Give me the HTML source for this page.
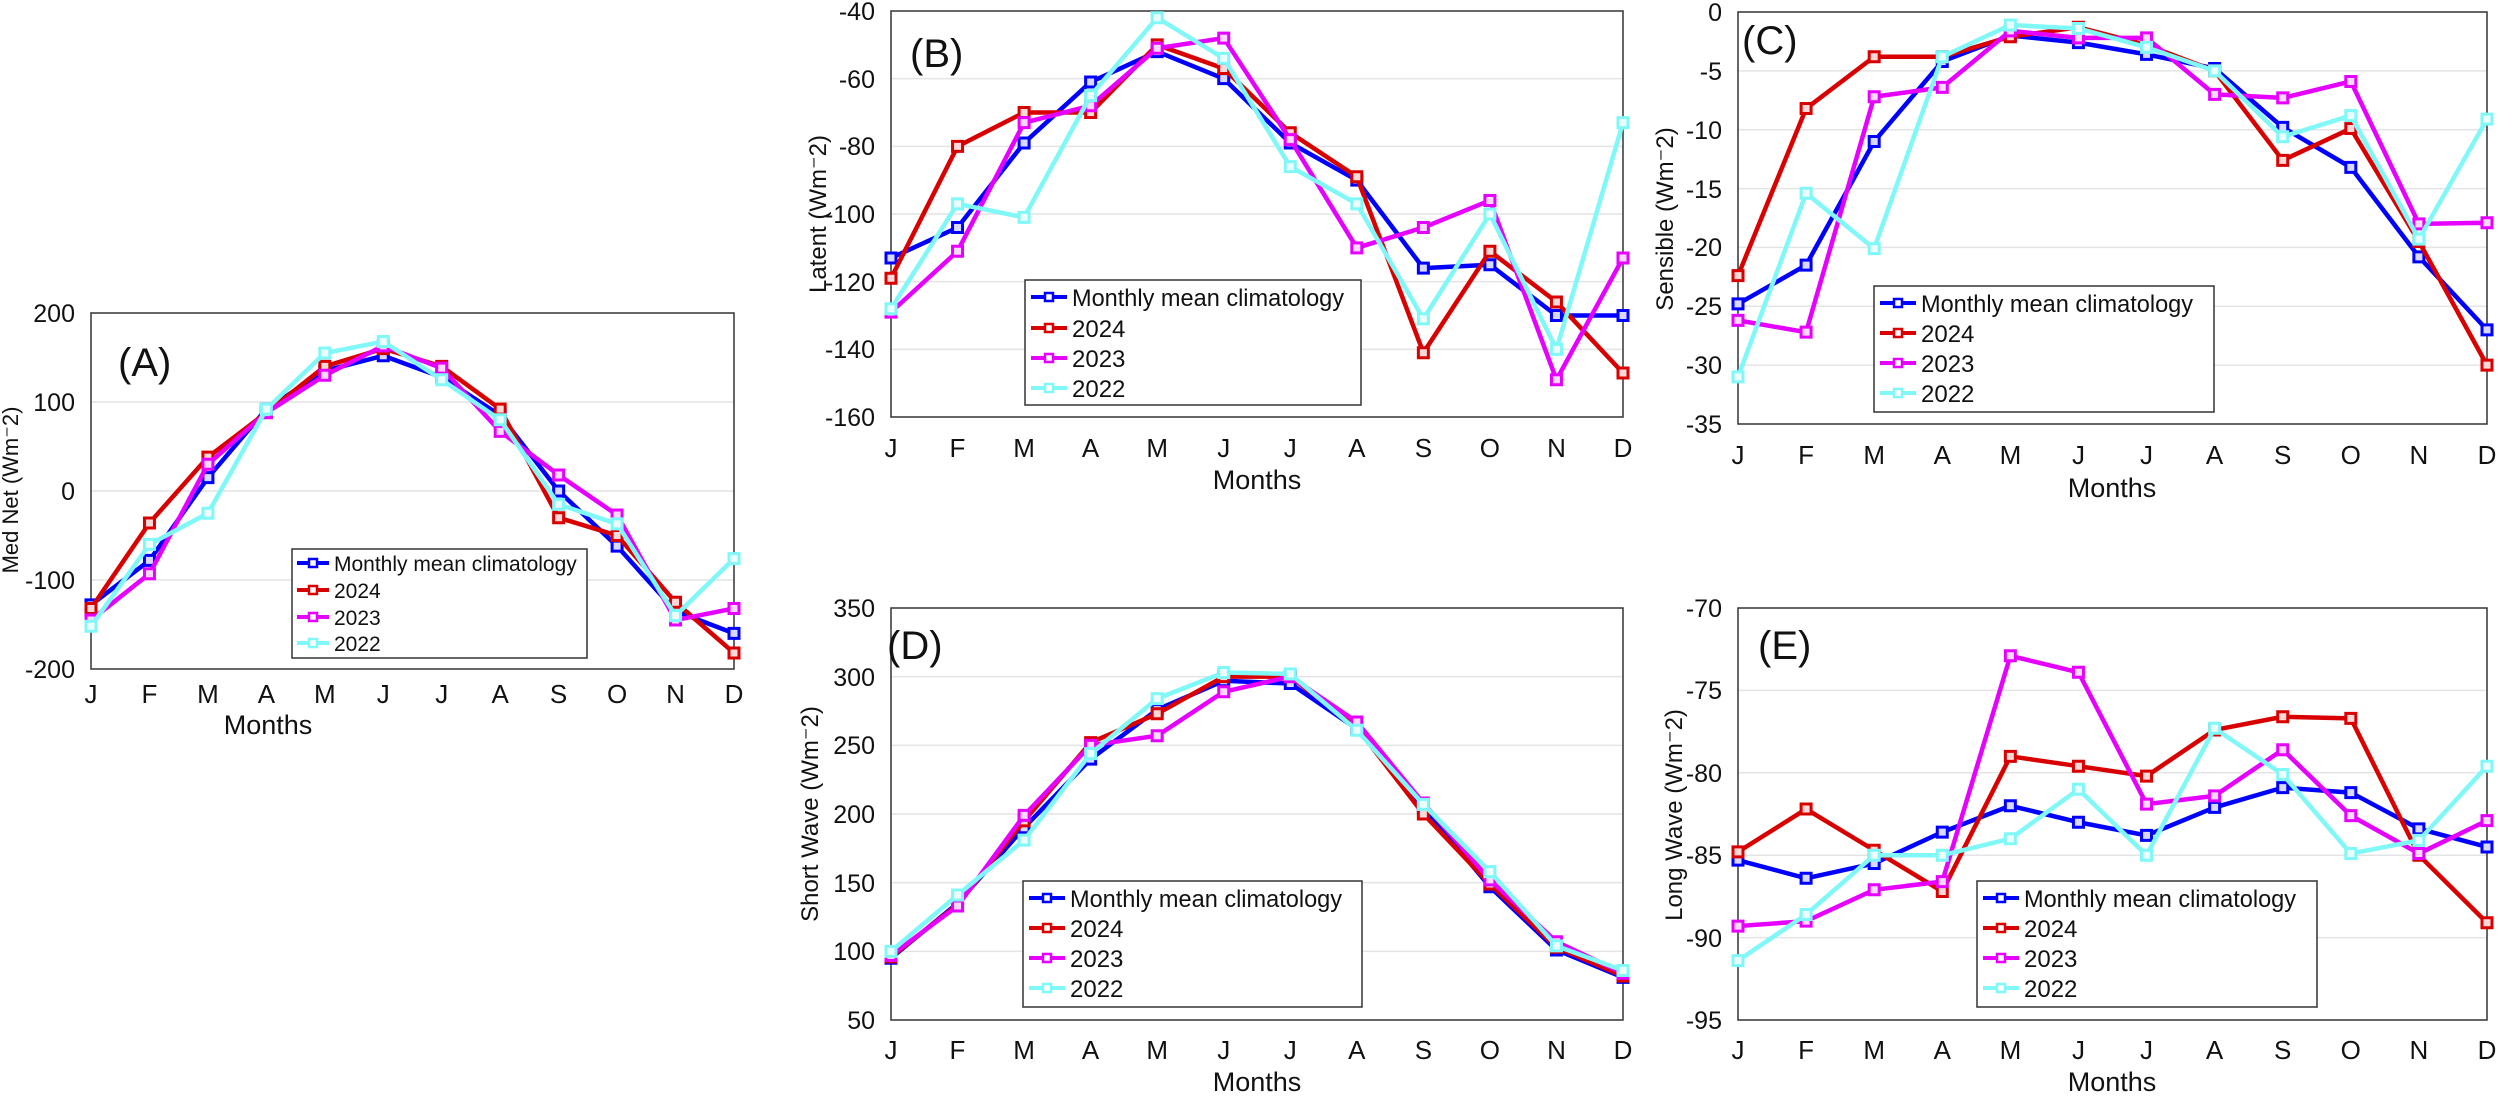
<!DOCTYPE html>
<html><head><meta charset="utf-8"><style>
html,body{margin:0;padding:0;background:#fff;width:2500px;height:1097px;overflow:hidden}
svg{display:block}
text{font-family:"Liberation Sans",sans-serif;fill:#111}
.t{font-size:25px}
.m{font-size:26px}
.lab{font-size:27px}
.yl{font-size:24px}
.ttl{font-size:40px}
.lg{font-size:24px}
.lgA{font-size:21px}
.g line{stroke:#e4e4e4;stroke-width:1.5;vector-effect:non-scaling-stroke}
.s{fill:none;stroke-width:4.5;stroke-linejoin:round;vector-effect:non-scaling-stroke}
.mk{fill:none;stroke-width:13;stroke-linecap:square;vector-effect:non-scaling-stroke}
.mw{fill:none;stroke:#fff;stroke-width:7;stroke-linecap:square;vector-effect:non-scaling-stroke;opacity:.85}
.b{stroke:#0000ff}.r{stroke:#d90000}.p{stroke:#e600ff}.c{stroke:#80f8f8}
.box{fill:none;stroke:#333;stroke-width:1.5}
.lgb{fill:#fff;stroke:#333;stroke-width:1.5}
</style></head><body>
<svg width="2500" height="1097" viewBox="0 0 2500 1097" xmlns="http://www.w3.org/2000/svg">
<defs>
<g id="vg"><line x1="0" x2="0" y1="-1000" y2="1000"/><line x1="1" x2="1" y1="-1000" y2="1000"/><line x1="2" x2="2" y1="-1000" y2="1000"/><line x1="3" x2="3" y1="-1000" y2="1000"/><line x1="4" x2="4" y1="-1000" y2="1000"/><line x1="5" x2="5" y1="-1000" y2="1000"/><line x1="6" x2="6" y1="-1000" y2="1000"/><line x1="7" x2="7" y1="-1000" y2="1000"/><line x1="8" x2="8" y1="-1000" y2="1000"/><line x1="9" x2="9" y1="-1000" y2="1000"/><line x1="10" x2="10" y1="-1000" y2="1000"/><line x1="11" x2="11" y1="-1000" y2="1000"/></g>
<clipPath id="cA"><rect x="91" y="313" width="643" height="356"/></clipPath>
<clipPath id="cB"><rect x="891" y="11" width="732" height="406"/></clipPath>
<clipPath id="cC"><rect x="1738" y="12" width="749" height="412"/></clipPath>
<clipPath id="cD"><rect x="891" y="608" width="732" height="412"/></clipPath>
<clipPath id="cE"><rect x="1738" y="608" width="749" height="412"/></clipPath>
</defs>

<!-- ============ PANEL A ============ -->
<g class="g" clip-path="url(#cA)">
<g transform="translate(91 313) scale(58.4545 -0.89) translate(0 -200)"><use href="#vg"/>
<line x1="-1" x2="12" y1="100" y2="100"/><line x1="-1" x2="12" y1="0" y2="0"/><line x1="-1" x2="12" y1="-100" y2="-100"/></g></g>
<rect class="box" x="91" y="313" width="643" height="356"/>
<g transform="translate(91 313) scale(58.4545 -0.89) translate(0 -200)">
<polyline class="s b" points="0,-128 1,-78 2,15 3,92 4,135 5,152 6,128 7,85 8,0 9,-62 10,-135 11,-160"/>
<path class="mk b" d="M0 -128h0M1 -78h0M2 15h0M3 92h0M4 135h0M5 152h0M6 128h0M7 85h0M8 0h0M9 -62h0M10 -135h0M11 -160h0"/>
<path class="mw" d="M0 -128h0M1 -78h0M2 15h0M3 92h0M4 135h0M5 152h0M6 128h0M7 85h0M8 0h0M9 -62h0M10 -135h0M11 -160h0"/>
<polyline class="s r" points="0,-132 1,-36 2,38 3,88 4,140 5,160 6,140 7,92 8,-30 9,-50 10,-125 11,-182"/>
<path class="mk r" d="M0 -132h0M1 -36h0M2 38h0M3 88h0M4 140h0M5 160h0M6 140h0M7 92h0M8 -30h0M9 -50h0M10 -125h0M11 -182h0"/>
<path class="mw" d="M0 -132h0M1 -36h0M2 38h0M3 88h0M4 140h0M5 160h0M6 140h0M7 92h0M8 -30h0M9 -50h0M10 -125h0M11 -182h0"/>
<polyline class="s p" points="0,-145 1,-93 2,30 3,88 4,130 5,163 6,138 7,67 8,18 9,-27 10,-145 11,-132"/>
<path class="mk p" d="M0 -145h0M1 -93h0M2 30h0M3 88h0M4 130h0M5 163h0M6 138h0M7 67h0M8 18h0M9 -27h0M10 -145h0M11 -132h0"/>
<path class="mw" d="M0 -145h0M1 -93h0M2 30h0M3 88h0M4 130h0M5 163h0M6 138h0M7 67h0M8 18h0M9 -27h0M10 -145h0M11 -132h0"/>
<polyline class="s c" points="0,-152 1,-60 2,-25 3,92 4,155 5,168 6,125 7,80 8,-15 9,-37 10,-140 11,-76"/>
<path class="mk c" d="M0 -152h0M1 -60h0M2 -25h0M3 92h0M4 155h0M5 168h0M6 125h0M7 80h0M8 -15h0M9 -37h0M10 -140h0M11 -76h0"/>
<path class="mw" d="M0 -152h0M1 -60h0M2 -25h0M3 92h0M4 155h0M5 168h0M6 125h0M7 80h0M8 -15h0M9 -37h0M10 -140h0M11 -76h0"/>
</g>
<g class="t" text-anchor="end"><text x="75" y="322">200</text><text x="75" y="411">100</text><text x="75" y="500">0</text><text x="75" y="589">-100</text><text x="75" y="678">-200</text></g>
<g class="m" text-anchor="middle"><text x="91" y="703">J</text><text x="149.5" y="703">F</text><text x="207.9" y="703">M</text><text x="266.4" y="703">A</text><text x="324.8" y="703">M</text><text x="383.3" y="703">J</text><text x="441.7" y="703">J</text><text x="500.2" y="703">A</text><text x="558.6" y="703">S</text><text x="617.1" y="703">O</text><text x="675.5" y="703">N</text><text x="734" y="703">D</text></g>
<text class="lab" x="268" y="734" text-anchor="middle">Months</text>
<text class="yl" transform="translate(18 490) rotate(-90)" text-anchor="middle" style="font-size:22px">Med Net (Wm&#x207B;2)</text>
<text class="ttl" x="118" y="376">(A)</text>
<rect class="lgb" x="292" y="549" width="295" height="109"/>
<g>
<line class="b" x1="297" x2="329" y1="563" y2="563" stroke-width="4"/><rect x="309" y="559" width="8" height="8" fill="#fff" stroke="#0000ff" stroke-width="2.5"/>
<line class="r" x1="297" x2="329" y1="590" y2="590" stroke-width="4"/><rect x="309" y="586" width="8" height="8" fill="#fff" stroke="#d90000" stroke-width="2.5"/>
<line class="p" x1="297" x2="329" y1="617" y2="617" stroke-width="4"/><rect x="309" y="613" width="8" height="8" fill="#fff" stroke="#e600ff" stroke-width="2.5"/>
<line class="c" x1="297" x2="329" y1="643" y2="643" stroke-width="4"/><rect x="309" y="639" width="8" height="8" fill="#fff" stroke="#80f8f8" stroke-width="2.5"/>
</g>
<g class="lgA"><text x="334" y="571">Monthly mean climatology</text><text x="334" y="598">2024</text><text x="334" y="625">2023</text><text x="334" y="651">2022</text></g>

<!-- ============ PANEL B ============ -->
<g class="g" clip-path="url(#cB)">
<g transform="translate(891 11) scale(66.545 -3.3833) translate(0 40)"><use href="#vg"/>
<line x1="-1" x2="12" y1="-60" y2="-60"/><line x1="-1" x2="12" y1="-80" y2="-80"/><line x1="-1" x2="12" y1="-100" y2="-100"/><line x1="-1" x2="12" y1="-120" y2="-120"/><line x1="-1" x2="12" y1="-140" y2="-140"/></g></g>
<rect class="box" x="891" y="11" width="732" height="406"/>
<g transform="translate(891 11) scale(66.545 -3.3833) translate(0 40)">
<polyline class="s b" points="0,-113 1,-104 2,-79 3,-61 4,-52 5,-60 6,-79 7,-90 8,-116 9,-115 10,-130 11,-130"/>
<path class="mk b" d="M0 -113h0M1 -104h0M2 -79h0M3 -61h0M4 -52h0M5 -60h0M6 -79h0M7 -90h0M8 -116h0M9 -115h0M10 -130h0M11 -130h0"/>
<path class="mw" d="M0 -113h0M1 -104h0M2 -79h0M3 -61h0M4 -52h0M5 -60h0M6 -79h0M7 -90h0M8 -116h0M9 -115h0M10 -130h0M11 -130h0"/>
<polyline class="s r" points="0,-119 1,-80 2,-70 3,-70 4,-50 5,-57 6,-76 7,-89 8,-141 9,-111 10,-126 11,-147"/>
<path class="mk r" d="M0 -119h0M1 -80h0M2 -70h0M3 -70h0M4 -50h0M5 -57h0M6 -76h0M7 -89h0M8 -141h0M9 -111h0M10 -126h0M11 -147h0"/>
<path class="mw" d="M0 -119h0M1 -80h0M2 -70h0M3 -70h0M4 -50h0M5 -57h0M6 -76h0M7 -89h0M8 -141h0M9 -111h0M10 -126h0M11 -147h0"/>
<polyline class="s p" points="0,-129 1,-111 2,-73 3,-68 4,-51 5,-48 6,-78 7,-110 8,-104 9,-96 10,-149 11,-113"/>
<path class="mk p" d="M0 -129h0M1 -111h0M2 -73h0M3 -68h0M4 -51h0M5 -48h0M6 -78h0M7 -110h0M8 -104h0M9 -96h0M10 -149h0M11 -113h0"/>
<path class="mw" d="M0 -129h0M1 -111h0M2 -73h0M3 -68h0M4 -51h0M5 -48h0M6 -78h0M7 -110h0M8 -104h0M9 -96h0M10 -149h0M11 -113h0"/>
<polyline class="s c" points="0,-128 1,-97 2,-101 3,-65 4,-42 5,-54 6,-86 7,-97 8,-131 9,-100 10,-140 11,-73"/>
<path class="mk c" d="M0 -128h0M1 -97h0M2 -101h0M3 -65h0M4 -42h0M5 -54h0M6 -86h0M7 -97h0M8 -131h0M9 -100h0M10 -140h0M11 -73h0"/>
<path class="mw" d="M0 -128h0M1 -97h0M2 -101h0M3 -65h0M4 -42h0M5 -54h0M6 -86h0M7 -97h0M8 -131h0M9 -100h0M10 -140h0M11 -73h0"/>
</g>
<g class="t" text-anchor="end"><text x="875" y="20">-40</text><text x="875" y="88">-60</text><text x="875" y="155">-80</text><text x="875" y="223">-100</text><text x="875" y="291">-120</text><text x="875" y="358">-140</text><text x="875" y="426">-160</text></g>
<g class="m" text-anchor="middle"><text x="891" y="457">J</text><text x="957.5" y="457">F</text><text x="1024.1" y="457">M</text><text x="1090.6" y="457">A</text><text x="1157.2" y="457">M</text><text x="1223.7" y="457">J</text><text x="1290.3" y="457">J</text><text x="1356.8" y="457">A</text><text x="1423.4" y="457">S</text><text x="1489.9" y="457">O</text><text x="1556.5" y="457">N</text><text x="1623" y="457">D</text></g>
<text class="lab" x="1257" y="489" text-anchor="middle">Months</text>
<text class="yl" transform="translate(826 214) rotate(-90)" text-anchor="middle">Latent (Wm&#x207B;2)</text>
<text class="ttl" x="910" y="67">(B)</text>
<rect class="lgb" x="1025" y="280" width="336" height="125"/>
<g>
<line class="b" x1="1031" x2="1067" y1="297" y2="297" stroke-width="4"/><rect x="1045" y="293" width="8" height="8" fill="#fff" stroke="#0000ff" stroke-width="2.5"/>
<line class="r" x1="1031" x2="1067" y1="328" y2="328" stroke-width="4"/><rect x="1045" y="324" width="8" height="8" fill="#fff" stroke="#d90000" stroke-width="2.5"/>
<line class="p" x1="1031" x2="1067" y1="358" y2="358" stroke-width="4"/><rect x="1045" y="354" width="8" height="8" fill="#fff" stroke="#e600ff" stroke-width="2.5"/>
<line class="c" x1="1031" x2="1067" y1="388" y2="388" stroke-width="4"/><rect x="1045" y="384" width="8" height="8" fill="#fff" stroke="#80f8f8" stroke-width="2.5"/>
</g>
<g class="lg"><text x="1072" y="306" textLength="272" lengthAdjust="spacingAndGlyphs">Monthly mean climatology</text><text x="1072" y="337">2024</text><text x="1072" y="367">2023</text><text x="1072" y="397">2022</text></g>

<!-- ============ PANEL C ============ -->
<g class="g" clip-path="url(#cC)">
<g transform="translate(1738 12) scale(68.09 -11.771)"><use href="#vg"/>
<line x1="-1" x2="12" y1="-5" y2="-5"/><line x1="-1" x2="12" y1="-10" y2="-10"/><line x1="-1" x2="12" y1="-15" y2="-15"/><line x1="-1" x2="12" y1="-20" y2="-20"/><line x1="-1" x2="12" y1="-25" y2="-25"/><line x1="-1" x2="12" y1="-30" y2="-30"/></g></g>
<rect class="box" x="1738" y="12" width="749" height="412"/>
<g transform="translate(1738 12) scale(68.09 -11.771)">
<polyline class="s b" points="0,-24.8 1,-21.5 2,-11 3,-4.2 4,-2 5,-2.6 6,-3.6 7,-4.8 8,-9.8 9,-13.2 10,-20.8 11,-27"/>
<path class="mk b" d="M0 -24.8h0M1 -21.5h0M2 -11h0M3 -4.2h0M4 -2h0M5 -2.6h0M6 -3.6h0M7 -4.8h0M8 -9.8h0M9 -13.2h0M10 -20.8h0M11 -27h0"/>
<path class="mw" d="M0 -24.8h0M1 -21.5h0M2 -11h0M3 -4.2h0M4 -2h0M5 -2.6h0M6 -3.6h0M7 -4.8h0M8 -9.8h0M9 -13.2h0M10 -20.8h0M11 -27h0"/>
<polyline class="s r" points="0,-22.4 1,-8.2 2,-3.8 3,-3.8 4,-2.1 5,-1.3 6,-2.8 7,-5 8,-12.6 9,-9.9 10,-19.5 11,-30"/>
<path class="mk r" d="M0 -22.4h0M1 -8.2h0M2 -3.8h0M3 -3.8h0M4 -2.1h0M5 -1.3h0M6 -2.8h0M7 -5h0M8 -12.6h0M9 -9.9h0M10 -19.5h0M11 -30h0"/>
<path class="mw" d="M0 -22.4h0M1 -8.2h0M2 -3.8h0M3 -3.8h0M4 -2.1h0M5 -1.3h0M6 -2.8h0M7 -5h0M8 -12.6h0M9 -9.9h0M10 -19.5h0M11 -30h0"/>
<polyline class="s p" points="0,-26.2 1,-27.2 2,-7.2 3,-6.4 4,-1.6 5,-2.2 6,-2.2 7,-7 8,-7.3 9,-5.9 10,-18 11,-17.9"/>
<path class="mk p" d="M0 -26.2h0M1 -27.2h0M2 -7.2h0M3 -6.4h0M4 -1.6h0M5 -2.2h0M6 -2.2h0M7 -7h0M8 -7.3h0M9 -5.9h0M10 -18h0M11 -17.9h0"/>
<path class="mw" d="M0 -26.2h0M1 -27.2h0M2 -7.2h0M3 -6.4h0M4 -1.6h0M5 -2.2h0M6 -2.2h0M7 -7h0M8 -7.3h0M9 -5.9h0M10 -18h0M11 -17.9h0"/>
<polyline class="s c" points="0,-31 1,-15.4 2,-20.1 3,-3.8 4,-1.1 5,-1.4 6,-3 7,-5 8,-10.6 9,-8.8 10,-19.3 11,-9.1"/>
<path class="mk c" d="M0 -31h0M1 -15.4h0M2 -20.1h0M3 -3.8h0M4 -1.1h0M5 -1.4h0M6 -3h0M7 -5h0M8 -10.6h0M9 -8.8h0M10 -19.3h0M11 -9.1h0"/>
<path class="mw" d="M0 -31h0M1 -15.4h0M2 -20.1h0M3 -3.8h0M4 -1.1h0M5 -1.4h0M6 -3h0M7 -5h0M8 -10.6h0M9 -8.8h0M10 -19.3h0M11 -9.1h0"/>
</g>
<g class="t" text-anchor="end"><text x="1722" y="21">0</text><text x="1722" y="80">-5</text><text x="1722" y="139">-10</text><text x="1722" y="198">-15</text><text x="1722" y="256">-20</text><text x="1722" y="315">-25</text><text x="1722" y="374">-30</text><text x="1722" y="433">-35</text></g>
<g class="m" text-anchor="middle"><text x="1738" y="464">J</text><text x="1806.1" y="464">F</text><text x="1874.2" y="464">M</text><text x="1942.3" y="464">A</text><text x="2010.4" y="464">M</text><text x="2078.5" y="464">J</text><text x="2146.5" y="464">J</text><text x="2214.6" y="464">A</text><text x="2282.7" y="464">S</text><text x="2350.8" y="464">O</text><text x="2418.9" y="464">N</text><text x="2487" y="464">D</text></g>
<text class="lab" x="2112" y="497" text-anchor="middle">Months</text>
<text class="yl" transform="translate(1673 219) rotate(-90)" text-anchor="middle">Sensible (Wm&#x207B;2)</text>
<text class="ttl" x="1742" y="54">(C)</text>
<rect class="lgb" x="1874" y="286" width="340" height="126"/>
<g>
<line class="b" x1="1880" x2="1916" y1="303" y2="303" stroke-width="4"/><rect x="1894" y="299" width="8" height="8" fill="#fff" stroke="#0000ff" stroke-width="2.5"/>
<line class="r" x1="1880" x2="1916" y1="333" y2="333" stroke-width="4"/><rect x="1894" y="329" width="8" height="8" fill="#fff" stroke="#d90000" stroke-width="2.5"/>
<line class="p" x1="1880" x2="1916" y1="363" y2="363" stroke-width="4"/><rect x="1894" y="359" width="8" height="8" fill="#fff" stroke="#e600ff" stroke-width="2.5"/>
<line class="c" x1="1880" x2="1916" y1="393" y2="393" stroke-width="4"/><rect x="1894" y="389" width="8" height="8" fill="#fff" stroke="#80f8f8" stroke-width="2.5"/>
</g>
<g class="lg"><text x="1921" y="312" textLength="272" lengthAdjust="spacingAndGlyphs">Monthly mean climatology</text><text x="1921" y="342">2024</text><text x="1921" y="372">2023</text><text x="1921" y="402">2022</text></g>

<!-- ============ PANEL D ============ -->
<g class="g" clip-path="url(#cD)">
<g transform="translate(891 608) scale(66.545 -1.3733) translate(0 -350)"><use href="#vg"/>
<line x1="-1" x2="12" y1="300" y2="300"/><line x1="-1" x2="12" y1="250" y2="250"/><line x1="-1" x2="12" y1="200" y2="200"/><line x1="-1" x2="12" y1="150" y2="150"/><line x1="-1" x2="12" y1="100" y2="100"/></g></g>
<rect class="box" x="891" y="608" width="732" height="412"/>
<g transform="translate(891 608) scale(66.545 -1.3733) translate(0 -350)">
<polyline class="s b" points="0,95 1,135 2,190 3,240 4,276 5,297 6,295 7,262 8,205 9,147 10,101 11,81"/>
<path class="mk b" d="M0 95h0M1 135h0M2 190h0M3 240h0M4 276h0M5 297h0M6 295h0M7 262h0M8 205h0M9 147h0M10 101h0M11 81h0"/>
<path class="mw" d="M0 95h0M1 135h0M2 190h0M3 240h0M4 276h0M5 297h0M6 295h0M7 262h0M8 205h0M9 147h0M10 101h0M11 81h0"/>
<polyline class="s r" points="0,96 1,134 2,195 3,252 4,273 5,300 6,300 7,263 8,200 9,149 10,103 11,82"/>
<path class="mk r" d="M0 96h0M1 134h0M2 195h0M3 252h0M4 273h0M5 300h0M6 300h0M7 263h0M8 200h0M9 149h0M10 103h0M11 82h0"/>
<path class="mw" d="M0 96h0M1 134h0M2 195h0M3 252h0M4 273h0M5 300h0M6 300h0M7 263h0M8 200h0M9 149h0M10 103h0M11 82h0"/>
<polyline class="s p" points="0,97 1,133 2,199 3,250 4,257 5,289 6,300 7,267 8,208 9,152 10,107 11,84"/>
<path class="mk p" d="M0 97h0M1 133h0M2 199h0M3 250h0M4 257h0M5 289h0M6 300h0M7 267h0M8 208h0M9 152h0M10 107h0M11 84h0"/>
<path class="mw" d="M0 97h0M1 133h0M2 199h0M3 250h0M4 257h0M5 289h0M6 300h0M7 267h0M8 208h0M9 152h0M10 107h0M11 84h0"/>
<polyline class="s c" points="0,100 1,141 2,181 3,244 4,284 5,303 6,302 7,261 8,207 9,158 10,104 11,86"/>
<path class="mk c" d="M0 100h0M1 141h0M2 181h0M3 244h0M4 284h0M5 303h0M6 302h0M7 261h0M8 207h0M9 158h0M10 104h0M11 86h0"/>
<path class="mw" d="M0 100h0M1 141h0M2 181h0M3 244h0M4 284h0M5 303h0M6 302h0M7 261h0M8 207h0M9 158h0M10 104h0M11 86h0"/>
</g>
<g class="t" text-anchor="end"><text x="875" y="617">350</text><text x="875" y="686">300</text><text x="875" y="754">250</text><text x="875" y="823">200</text><text x="875" y="892">150</text><text x="875" y="960">100</text><text x="875" y="1029">50</text></g>
<g class="m" text-anchor="middle"><text x="891" y="1059">J</text><text x="957.5" y="1059">F</text><text x="1024.1" y="1059">M</text><text x="1090.6" y="1059">A</text><text x="1157.2" y="1059">M</text><text x="1223.7" y="1059">J</text><text x="1290.3" y="1059">J</text><text x="1356.8" y="1059">A</text><text x="1423.4" y="1059">S</text><text x="1489.9" y="1059">O</text><text x="1556.5" y="1059">N</text><text x="1623" y="1059">D</text></g>
<text class="lab" x="1257" y="1091" text-anchor="middle">Months</text>
<text class="yl" transform="translate(818 814) rotate(-90)" text-anchor="middle">Short Wave (Wm&#x207B;2)</text>
<text class="ttl" x="887" y="659">(D)</text>
<rect class="lgb" x="1023" y="881" width="339" height="126"/>
<g>
<line class="b" x1="1029" x2="1065" y1="898" y2="898" stroke-width="4"/><rect x="1043" y="894" width="8" height="8" fill="#fff" stroke="#0000ff" stroke-width="2.5"/>
<line class="r" x1="1029" x2="1065" y1="928" y2="928" stroke-width="4"/><rect x="1043" y="924" width="8" height="8" fill="#fff" stroke="#d90000" stroke-width="2.5"/>
<line class="p" x1="1029" x2="1065" y1="958" y2="958" stroke-width="4"/><rect x="1043" y="954" width="8" height="8" fill="#fff" stroke="#e600ff" stroke-width="2.5"/>
<line class="c" x1="1029" x2="1065" y1="988" y2="988" stroke-width="4"/><rect x="1043" y="984" width="8" height="8" fill="#fff" stroke="#80f8f8" stroke-width="2.5"/>
</g>
<g class="lg"><text x="1070" y="907" textLength="272" lengthAdjust="spacingAndGlyphs">Monthly mean climatology</text><text x="1070" y="937">2024</text><text x="1070" y="967">2023</text><text x="1070" y="997">2022</text></g>

<!-- ============ PANEL E ============ -->
<g class="g" clip-path="url(#cE)">
<g transform="translate(1738 608) scale(68.09 -16.48) translate(0 70)"><use href="#vg"/>
<line x1="-1" x2="12" y1="-75" y2="-75"/><line x1="-1" x2="12" y1="-80" y2="-80"/><line x1="-1" x2="12" y1="-85" y2="-85"/><line x1="-1" x2="12" y1="-90" y2="-90"/></g></g>
<rect class="box" x="1738" y="608" width="749" height="412"/>
<g transform="translate(1738 608) scale(68.09 -16.48) translate(0 70)">
<polyline class="s b" points="0,-85.3 1,-86.4 2,-85.5 3,-83.6 4,-82 5,-83 6,-83.8 7,-82.1 8,-80.9 9,-81.2 10,-83.4 11,-84.5"/>
<path class="mk b" d="M0 -85.3h0M1 -86.4h0M2 -85.5h0M3 -83.6h0M4 -82h0M5 -83h0M6 -83.8h0M7 -82.1h0M8 -80.9h0M9 -81.2h0M10 -83.4h0M11 -84.5h0"/>
<path class="mw" d="M0 -85.3h0M1 -86.4h0M2 -85.5h0M3 -83.6h0M4 -82h0M5 -83h0M6 -83.8h0M7 -82.1h0M8 -80.9h0M9 -81.2h0M10 -83.4h0M11 -84.5h0"/>
<polyline class="s r" points="0,-84.8 1,-82.2 2,-84.7 3,-87.2 4,-79 5,-79.6 6,-80.2 7,-77.4 8,-76.6 9,-76.7 10,-85 11,-89.1"/>
<path class="mk r" d="M0 -84.8h0M1 -82.2h0M2 -84.7h0M3 -87.2h0M4 -79h0M5 -79.6h0M6 -80.2h0M7 -77.4h0M8 -76.6h0M9 -76.7h0M10 -85h0M11 -89.1h0"/>
<path class="mw" d="M0 -84.8h0M1 -82.2h0M2 -84.7h0M3 -87.2h0M4 -79h0M5 -79.6h0M6 -80.2h0M7 -77.4h0M8 -76.6h0M9 -76.7h0M10 -85h0M11 -89.1h0"/>
<polyline class="s p" points="0,-89.3 1,-89 2,-87.1 3,-86.6 4,-72.9 5,-73.9 6,-81.9 7,-81.4 8,-78.6 9,-82.6 10,-84.9 11,-82.9"/>
<path class="mk p" d="M0 -89.3h0M1 -89h0M2 -87.1h0M3 -86.6h0M4 -72.9h0M5 -73.9h0M6 -81.9h0M7 -81.4h0M8 -78.6h0M9 -82.6h0M10 -84.9h0M11 -82.9h0"/>
<path class="mw" d="M0 -89.3h0M1 -89h0M2 -87.1h0M3 -86.6h0M4 -72.9h0M5 -73.9h0M6 -81.9h0M7 -81.4h0M8 -78.6h0M9 -82.6h0M10 -84.9h0M11 -82.9h0"/>
<polyline class="s c" points="0,-91.4 1,-88.6 2,-85 3,-85 4,-84 5,-81 6,-85 7,-77.3 8,-80.1 9,-84.9 10,-84.1 11,-79.6"/>
<path class="mk c" d="M0 -91.4h0M1 -88.6h0M2 -85h0M3 -85h0M4 -84h0M5 -81h0M6 -85h0M7 -77.3h0M8 -80.1h0M9 -84.9h0M10 -84.1h0M11 -79.6h0"/>
<path class="mw" d="M0 -91.4h0M1 -88.6h0M2 -85h0M3 -85h0M4 -84h0M5 -81h0M6 -85h0M7 -77.3h0M8 -80.1h0M9 -84.9h0M10 -84.1h0M11 -79.6h0"/>
</g>
<g class="t" text-anchor="end"><text x="1722" y="617">-70</text><text x="1722" y="699">-75</text><text x="1722" y="782">-80</text><text x="1722" y="864">-85</text><text x="1722" y="947">-90</text><text x="1722" y="1029">-95</text></g>
<g class="m" text-anchor="middle"><text x="1738" y="1059">J</text><text x="1806.1" y="1059">F</text><text x="1874.2" y="1059">M</text><text x="1942.3" y="1059">A</text><text x="2010.4" y="1059">M</text><text x="2078.5" y="1059">J</text><text x="2146.5" y="1059">J</text><text x="2214.6" y="1059">A</text><text x="2282.7" y="1059">S</text><text x="2350.8" y="1059">O</text><text x="2418.9" y="1059">N</text><text x="2487" y="1059">D</text></g>
<text class="lab" x="2112" y="1091" text-anchor="middle">Months</text>
<text class="yl" transform="translate(1682 815) rotate(-90)" text-anchor="middle">Long  Wave (Wm&#x207B;2)</text>
<text class="ttl" x="1758" y="659">(E)</text>
<rect class="lgb" x="1977" y="881" width="340" height="126"/>
<g>
<line class="b" x1="1983" x2="2019" y1="898" y2="898" stroke-width="4"/><rect x="1997" y="894" width="8" height="8" fill="#fff" stroke="#0000ff" stroke-width="2.5"/>
<line class="r" x1="1983" x2="2019" y1="928" y2="928" stroke-width="4"/><rect x="1997" y="924" width="8" height="8" fill="#fff" stroke="#d90000" stroke-width="2.5"/>
<line class="p" x1="1983" x2="2019" y1="958" y2="958" stroke-width="4"/><rect x="1997" y="954" width="8" height="8" fill="#fff" stroke="#e600ff" stroke-width="2.5"/>
<line class="c" x1="1983" x2="2019" y1="988" y2="988" stroke-width="4"/><rect x="1997" y="984" width="8" height="8" fill="#fff" stroke="#80f8f8" stroke-width="2.5"/>
</g>
<g class="lg"><text x="2024" y="907" textLength="272" lengthAdjust="spacingAndGlyphs">Monthly mean climatology</text><text x="2024" y="937">2024</text><text x="2024" y="967">2023</text><text x="2024" y="997">2022</text></g>
</svg>
</body></html>
